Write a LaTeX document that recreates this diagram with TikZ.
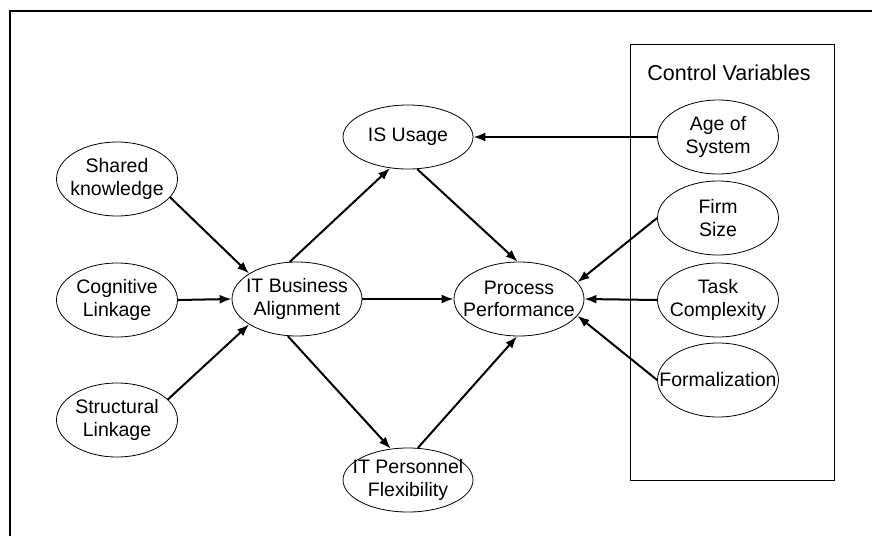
\documentclass[tikz,border=0pt]{standalone}
\usepackage{fontspec}
\setmainfont{Liberation Sans}
\usetikzlibrary{shapes.geometric,arrows.meta}

\tikzset{
  var/.style={ellipse,draw,line width=0.8pt,minimum width=121pt,minimum height=74pt,
    inner xsep=-20pt,inner ysep=0pt,align=center,
    font=\fontsize{19.5}{22.5}\selectfont},
  wide/.style={var,minimum width=130pt},
  flat/.style={wide,minimum height=64pt},
  path/.style={line width=2pt,-{Latex[length=12pt,width=9pt]}}
}

\begin{document}
\begin{tikzpicture}[x=1pt,y=-1pt]
\useasboundingbox (0,0) rectangle (872,536);
% frame and control box
\draw[line width=1.2pt] (10,536) -- (10,11) -- (872,11);
\draw[line width=0.9pt] (630,44) rectangle (834,480);
\node[font=\fontsize{21.5}{24}\selectfont] (ctl) at (729,73) {Control Variables};

% antecedents
\node[var] (sk) at (117,179) {Shared\\knowledge};
\node[var] (cl) at (117,300) {Cognitive\\Linkage};
\node[var] (sl) at (117,420) {Structural\\Linkage};

% core constructs
\node[wide] (itba) at (297,299) {IT Business\\Alignment};
\node[flat] (isu) at (408,137) {IS Usage};
\node[flat] (itpf) at (408,480) {IT Personnel\\Flexibility};
\node[wide] (pp) at (519,299) {Process\\Performance};

% controls
\node[var] (age) at (718,137) {Age of\\System};
\node[var] (fs) at (718,218) {Firm\\Size};
\node[var] (tc) at (718,300) {Task\\Complexity};
\node[var] (fo) at (718,380) {Formalization};

% paths
\draw[path] (sk.-19) -- (itba.152);
\draw[path] (cl.east) -- (itba.west);
\draw[path] (sl.22) -- (itba.208);
\draw[path] (itba.101) -- (isu.-120);
\draw[path] (isu.-74) -- (pp.92);
\draw[path] (itba.east) -- (pp.west);
\draw[path] (itba.-104) -- (itpf.119);
\draw[path] (itpf.73) -- (pp.-93);
\draw[path] (age.west) -- (isu.east);
\draw[path] (fs.west) -- (pp.16);
\draw[path] (tc.west) -- (pp.east);
\draw[path] (fo.west) -- (pp.-16);
\end{tikzpicture}
\end{document}
